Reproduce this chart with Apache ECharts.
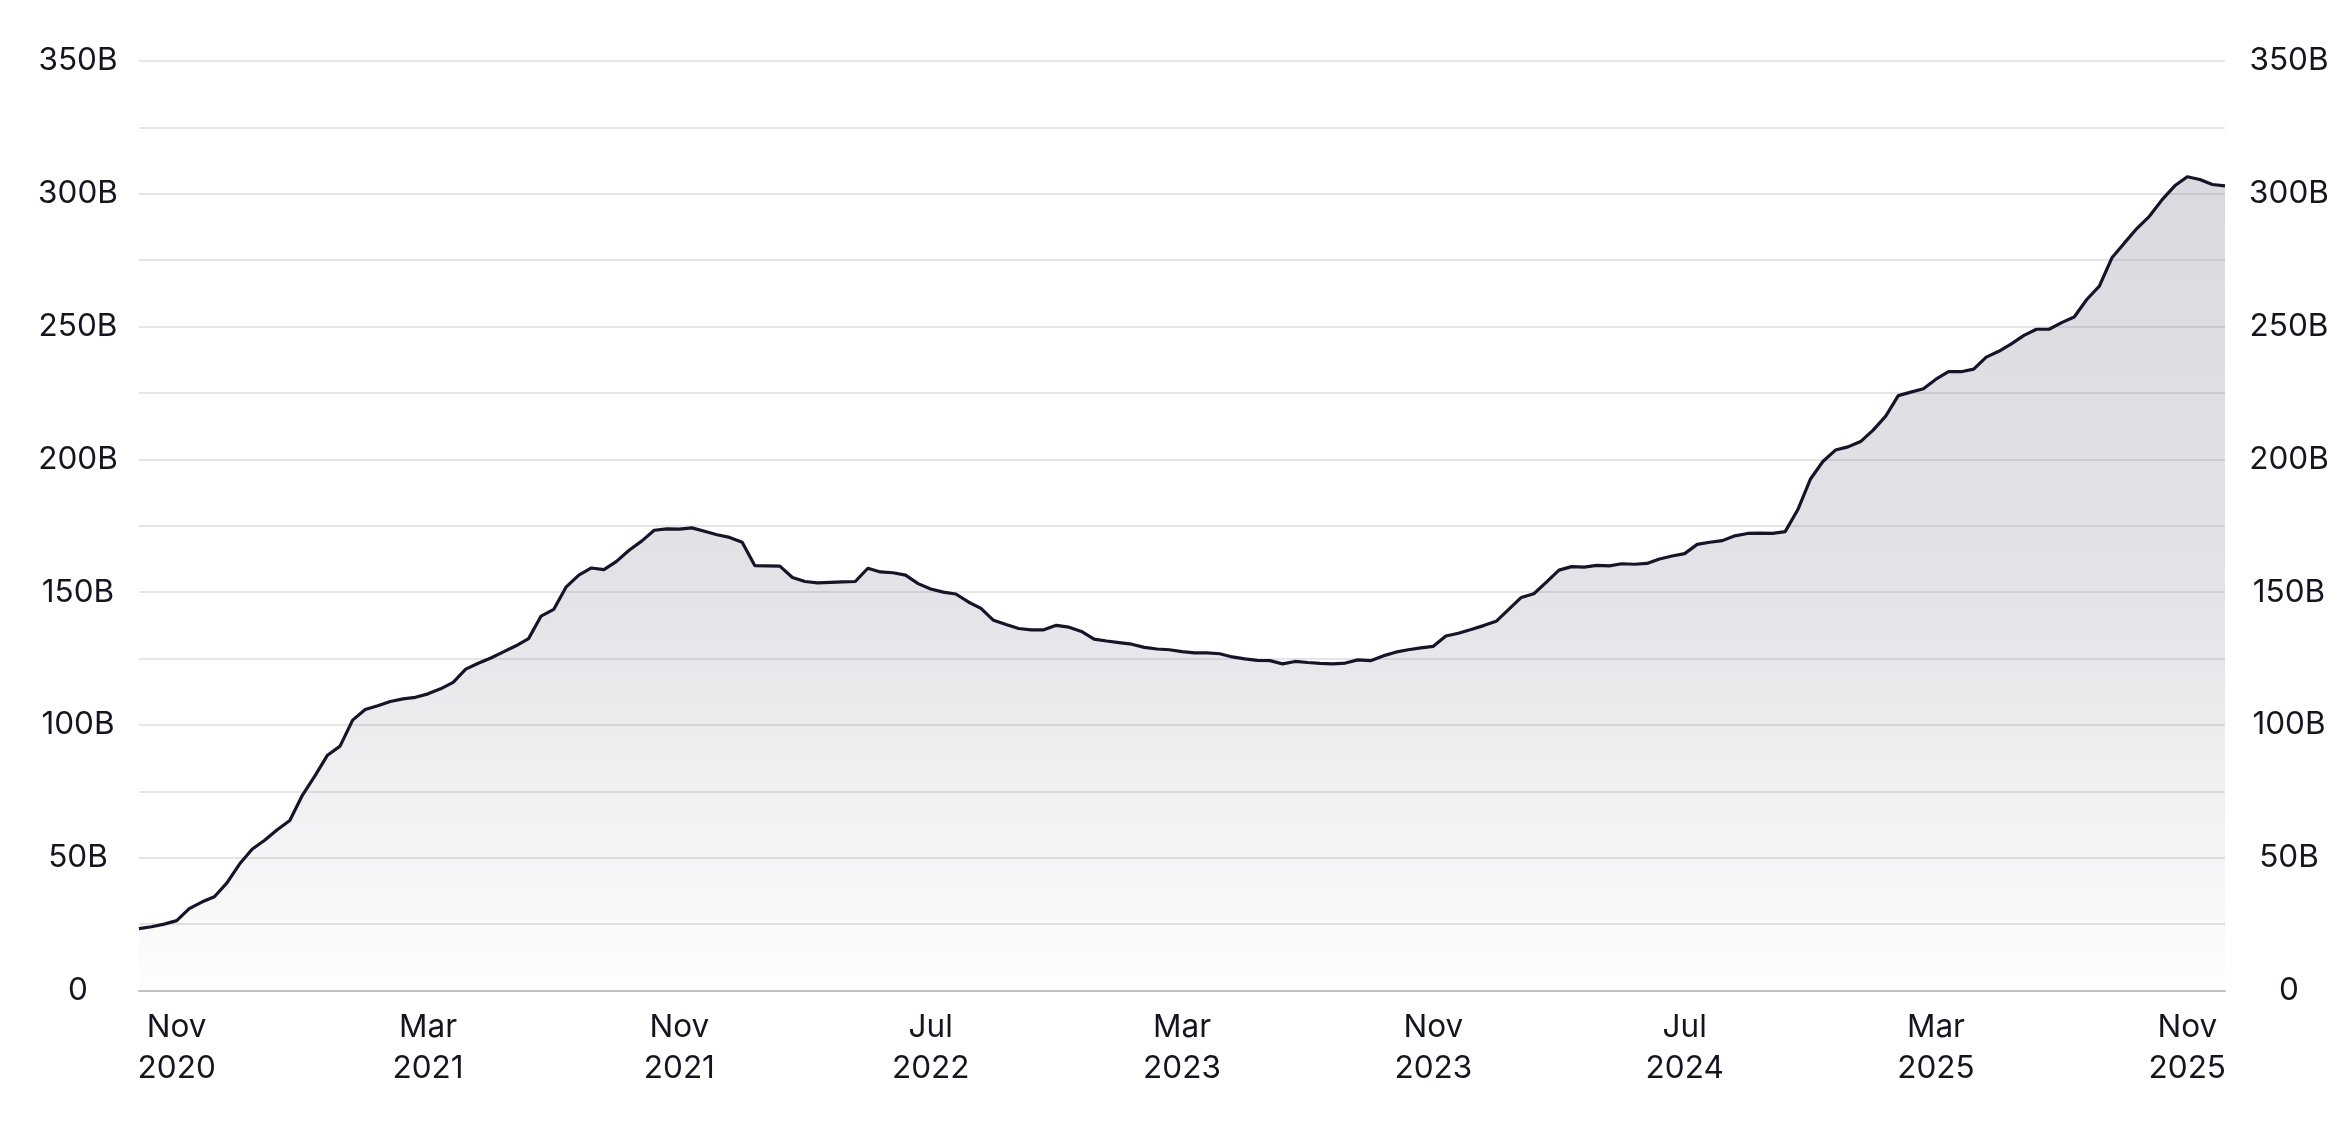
<!DOCTYPE html>
<html>
<head>
<meta charset="utf-8">
<script src="https://cdn.jsdelivr.net/npm/echarts@6/dist/echarts.min.js"></script>
<style>
html,body{margin:0;padding:0;background:#fff;}
#chart{width:2346px;height:1124px;}
</style>
</head>
<body>
<div id="chart"></div>
<script>
// Supply values in billions (B), evenly spaced samples
const supplyB = [
  23.3, 24.0, 25.0, 26.3, 30.8, 33.3, 35.3, 40.5, 47.6, 53.2,
  56.6, 60.5, 64.0, 73.5, 80.8, 88.6, 92.0, 101.8, 105.8, 107.2,
  108.8, 109.8, 110.4, 111.7, 113.6, 116.0, 121.0, 123.2, 125.2, 127.5,
  129.8, 132.5, 141.0, 143.5, 152.0, 156.4, 159.1, 158.5, 161.6, 165.8,
  169.2, 173.3, 173.8, 173.7, 174.2, 172.9, 171.6, 170.6, 168.8, 160.0,
  159.9, 159.8, 155.5, 154.0, 153.5, 153.7, 153.9, 154.0, 159.0, 157.6,
  157.3, 156.4, 153.2, 151.2, 150.0, 149.3, 146.3, 143.9, 139.4, 137.8,
  136.3, 135.8, 135.8, 137.5, 136.8, 135.2, 132.3, 131.6, 131.0, 130.4,
  129.2, 128.6, 128.3, 127.6, 127.1, 127.1, 126.8, 125.6, 124.9, 124.3,
  124.2, 123.0, 123.9, 123.5, 123.2, 123.0, 123.3, 124.5, 124.2, 126.0,
  127.4, 128.3, 129.0, 129.6, 133.5, 134.5, 135.9, 137.4, 139.0, 143.5,
  148.0, 149.4, 153.8, 158.3, 159.6, 159.4, 160.1, 159.9, 160.7, 160.5,
  160.8, 162.5, 163.6, 164.5, 168.0, 168.8, 169.4, 171.2, 172.1, 172.2,
  172.1, 172.8, 181.0, 192.5, 199.2, 203.5, 204.7, 206.7, 211.0, 216.3,
  224.0, 225.3, 226.6, 230.2, 233.0, 233.0, 234.0, 238.5, 240.7, 243.5,
  246.7, 249.0, 249.0, 251.5, 253.6, 260.2, 265.2, 275.9, 281.5, 287.0,
  291.6, 297.8, 303.0, 306.4, 305.4, 303.5, 303.0
];

// X tick labels (month / year), shown evenly along the axis
const xTickLabels = [
  'Nov\n2020', 'Mar\n2021', 'Nov\n2021', 'Jul\n2022', 'Mar\n2023',
  'Nov\n2023', 'Jul\n2024', 'Mar\n2025', 'Nov\n2025'
];

// Y tick labels every 50B
const yTickValues = [0, 50, 100, 150, 200, 250, 300, 350];
const yTickLabels = ['0', '50B', '100B', '150B', '200B', '250B', '300B', '350B'];

const TICK_OFFSET = 3, TICK_STEP = 20;
const categories = supplyB.map((_, i) => {
  const k = (i - TICK_OFFSET) / TICK_STEP;
  return (Number.isInteger(k) && k >= 0 && k < xTickLabels.length) ? xTickLabels[k] : '';
});

const FONT = 'Inter, "Liberation Sans", Arial, sans-serif';
const TEXT = '#14151f';
const FS = 31.5;

function yLabel(v) {
  const idx = yTickValues.indexOf(v);
  return idx >= 0 ? yTickLabels[idx] : '';
}

const yAxisBase = {
  type: 'value', min: 0, max: 350, interval: 25,
  axisLine: { show: false }, axisTick: { show: false },
  axisLabel: {
    formatter: yLabel, color: TEXT, fontFamily: FONT, fontSize: FS,
    align: 'center'
  }
};

const chart = echarts.init(document.getElementById('chart'), null, { renderer: 'canvas' });
chart.setOption({
  animation: false,
  backgroundColor: '#ffffff',
  grid: { left: 139, right: 121, top: 61, bottom: 133.5, containLabel: false },
  xAxis: {
    type: 'category', data: categories, boundaryGap: false,
    axisLine: { show: true, lineStyle: { color: '#c2c2c6', width: 2 } },
    axisTick: { show: false },
    splitLine: { show: false },
    axisLabel: {
      interval: (i) => categories[i] !== '',
      color: TEXT, fontFamily: FONT, fontSize: FS, lineHeight: 41,
      margin: 17, align: 'center'
    }
  },
  yAxis: [
    Object.assign({}, yAxisBase, {
      position: 'left',
      axisLabel: Object.assign({}, yAxisBase.axisLabel, { margin: 61 }),
      splitLine: { show: true, lineStyle: { color: '#dcdcdf', width: 1.5 } }
    }),
    Object.assign({}, yAxisBase, {
      position: 'right',
      axisLabel: Object.assign({}, yAxisBase.axisLabel, { margin: 64 }),
      splitLine: { show: false }
    })
  ],
  series: [{
    type: 'line', data: supplyB, yAxisIndex: 0,
    showSymbol: false, symbol: 'none', smooth: false,
    lineStyle: { color: '#15152a', width: 3.2 },
    areaStyle: {
      color: new echarts.graphic.LinearGradient(0, 0, 0, 1, [
        { offset: 0, color: 'rgba(125,125,145,0.42)' },
        { offset: 0.5, color: 'rgba(125,125,145,0.31)' },
        { offset: 1, color: 'rgba(125,125,145,0.02)' }
      ])
    }
  }]
});
</script>
</body>
</html>
